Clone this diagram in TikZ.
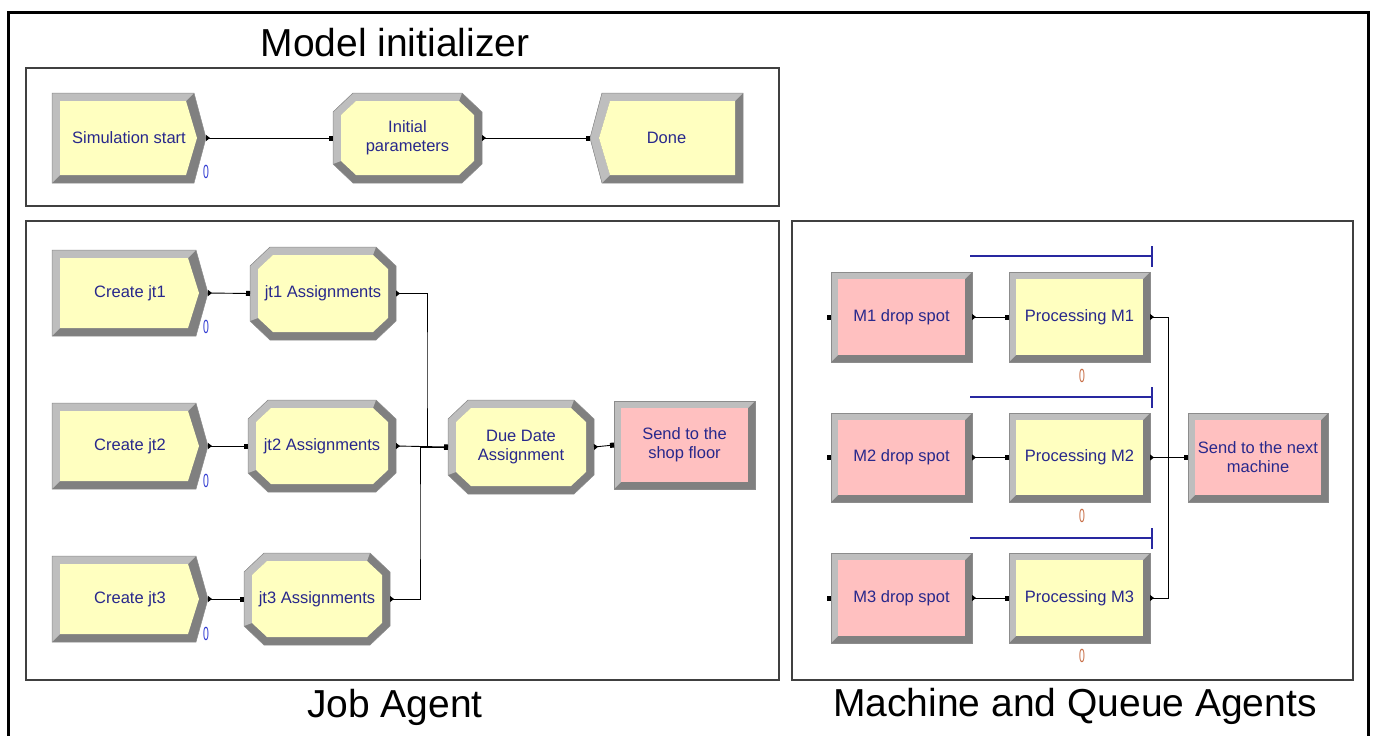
\documentclass[tikz,border=0pt]{standalone}
\usepackage{fontspec}
\setmainfont{Liberation Sans}
\usetikzlibrary{arrows.meta,calc}

\definecolor{yel}{RGB}{255,255,192}
\definecolor{pnk}{RGB}{255,192,192}
\definecolor{bvl}{RGB}{190,190,190}
\definecolor{bvd}{RGB}{128,128,128}
\definecolor{txt}{RGB}{40,40,140}
\definecolor{cntb}{RGB}{50,60,210}
\definecolor{cntr}{RGB}{200,110,70}
\definecolor{qline}{RGB}{40,40,160}

\tikzset{
  modedge/.style={draw=black!45, line width=0.5pt},
  modtext/.style={font=\fontsize{16.5}{19}\selectfont, text=txt, align=center, inner sep=0pt, outer sep=0pt},
  conn/.style={draw=black, line width=0.9pt, arrows={Triangle[reversed,length=4pt,width=6pt]-Square[length=4pt,width=5pt]}},
  frame/.style={draw=black!75, line width=1.2pt},
  outerframe/.style={draw=black, line width=3pt},
  paneltitle/.style={font=\fontsize{39}{44}\selectfont, text=black, inner sep=0pt},
  countb/.style={font=\fontsize{19}{19}\selectfont, text=cntb, xscale=0.55, inner sep=0pt},
  countr/.style={font=\fontsize{19}{19}\selectfont, text=cntr, xscale=0.55, inner sep=0pt},
  queue/.style={draw=qline, line width=1.1pt},
}

% rectangle module: name x1 y1 x2 y2 fill text
\newcommand\RectMod[7]{%
  \fill[bvd] (#2,#3) rectangle (#4,#5);
  \fill[bvl] (#2,#3) -- (#4,#3) -- (#4-7,#3+7) -- (#2+7,#3+7) -- (#2+7,#5-7) -- (#2,#5) -- cycle;
  \fill[#6] (#2+7,#3+7) rectangle (#4-7,#5-7);
  \draw[modedge] (#2,#3) rectangle (#4,#5);
  \node[modtext, minimum width=#4pt-#2pt, minimum height=#5pt-#3pt] (#1) at ({(#2+#4)/2},{(#3+#5)/2}) {#7};
}
% octagon (assign) module
\newcommand\OctMod[7]{%
  \fill[bvd] (#2+20,#3) -- (#4-20,#3) -- (#4,#3+19) -- (#4,#5-19) -- (#4-20,#5) -- (#2+20,#5) -- (#2,#5-19) -- (#2,#3+19) -- cycle;
  \fill[bvl] (#2,#5-19) -- (#2,#3+19) -- (#2+20,#3) -- (#4-20,#3) -- (#4-23,#3+8) -- (#2+23,#3+8) -- (#2+8,#3+22) -- (#2+8,#5-22) -- cycle;
  \fill[#6] (#2+23,#3+8) -- (#4-23,#3+8) -- (#4-8,#3+22) -- (#4-8,#5-22) -- (#4-23,#5-8) -- (#2+23,#5-8) -- (#2+8,#5-22) -- (#2+8,#3+22) -- cycle;
  \draw[modedge] (#2+20,#3) -- (#4-20,#3) -- (#4,#3+19) -- (#4,#5-19) -- (#4-20,#5) -- (#2+20,#5) -- (#2,#5-19) -- (#2,#3+19) -- cycle;
  \node[modtext, minimum width=#4pt-#2pt, minimum height=#5pt-#3pt] (#1) at ({(#2+#4)/2},{(#3+#5)/2}) {#7};
}
% create module (pointed right)
\newcommand\CreateMod[7]{%
  \fill[bvd] (#2,#3) -- (#4-12,#3) -- (#4,{(#3+#5)/2}) -- (#4-12,#5) -- (#2,#5) -- cycle;
  \fill[bvl] (#2,#5) -- (#2,#3) -- (#4-12,#3) -- (#4-20,#3+8) -- (#2+8,#3+8) -- (#2+8,#5-8) -- cycle;
  \fill[#6] (#2+8,#3+8) -- (#4-20,#3+8) -- (#4-9,{(#3+#5)/2}) -- (#4-20,#5-8) -- (#2+8,#5-8) -- cycle;
  \draw[modedge] (#2,#3) -- (#4-12,#3) -- (#4,{(#3+#5)/2}) -- (#4-12,#5) -- (#2,#5) -- cycle;
  \node[modtext, minimum width=#4pt-#2pt, minimum height=#5pt-#3pt] (#1) at ({(#2+#4)/2},{(#3+#5)/2}) {#7};
}
% dispose module (notched left)
\newcommand\DisposeMod[7]{%
  \fill[bvd] (#2+12,#3) -- (#4,#3) -- (#4,#5) -- (#2+12,#5) -- (#2,{(#3+#5)/2}) -- cycle;
  \fill[bvl] (#2+12,#5) -- (#2,{(#3+#5)/2}) -- (#2+12,#3) -- (#4,#3) -- (#4-8,#3+8) -- (#2+20,#3+8) -- (#2+9,{(#3+#5)/2}) -- (#2+20,#5-8) -- cycle;
  \fill[#6] (#2+20,#3+8) -- (#4-8,#3+8) -- (#4-8,#5-8) -- (#2+20,#5-8) -- (#2+9,{(#3+#5)/2}) -- cycle;
  \draw[modedge] (#2+12,#3) -- (#4,#3) -- (#4,#5) -- (#2+12,#5) -- (#2,{(#3+#5)/2}) -- cycle;
  \node[modtext, minimum width=#4pt-#2pt, minimum height=#5pt-#3pt] (#1) at ({(#2+#4)/2},{(#3+#5)/2}) {#7};
}

\begin{document}
\begin{tikzpicture}[x=1pt,y=-1pt]
\useasboundingbox (0,0) rectangle (1376,736);
\fill[white] (0,0) rectangle (1376,736);

% frames
\draw[outerframe] (8,745) -- (8,12) -- (1368,12) -- (1368,745);
\draw[frame] (26,68) rectangle (779,206);
\draw[frame] (26,221) rectangle (779,680);
\draw[frame] (792,221) rectangle (1353,680);

% titles
\node[paneltitle] (tmodel) at (395,43) {Model initializer};
\node[paneltitle] (tjob) at (395,707) {Job Agent};
\node[paneltitle] (tmach) at (1075,706) {Machine and Queue Agents};

% Model initializer
\CreateMod{simstart}{52}{93}{206}{183}{yel}{Simulation start}
\OctMod{initpar}{333}{93}{482}{183}{yel}{Initial\\parameters}
\DisposeMod{done}{590}{93}{743}{183}{yel}{Done}
\node[countb] (n0) at (206,172) {0};

% Job agent
\CreateMod{c1}{52}{250}{208}{336}{yel}{Create jt1}
\OctMod{a1}{250}{247}{396}{340}{yel}{jt1 Assignments}
\CreateMod{c2}{52}{403}{208}{489}{yel}{Create jt2}
\OctMod{a2}{248}{400}{396}{492}{yel}{jt2 Assignments}
\CreateMod{c3}{52}{556}{208}{642}{yel}{Create jt3}
\OctMod{a3}{244}{553}{390}{645}{yel}{jt3 Assignments}
\OctMod{dd}{448}{400}{594}{494}{yel}{Due Date\\Assignment}
\RectMod{sf}{614}{401}{755}{489}{pnk}{Send to the\\shop floor}
\node[countb] (n1) at (206,327) {0};
\node[countb] (n2) at (206,481) {0};
\node[countb] (n3) at (206,634) {0};

% Machine and queue agents
\RectMod{d1}{831}{272}{972}{362}{pnk}{M1 drop spot}
\RectMod{p1}{1009}{272}{1150}{362}{yel}{Processing M1}
\RectMod{d2}{831}{413}{972}{502}{pnk}{M2 drop spot}
\RectMod{p2}{1009}{413}{1150}{502}{yel}{Processing M2}
\RectMod{d3}{831}{553}{972}{643}{pnk}{M3 drop spot}
\RectMod{p3}{1009}{553}{1150}{643}{yel}{Processing M3}
\RectMod{nm}{1188}{413}{1328}{502}{pnk}{Send to the next\\machine}
\node[countr] (q1) at (1082,376) {0};
\node[countr] (q2) at (1082,516) {0};
\node[countr] (q3) at (1082,656) {0};

% queues
\draw[queue] (970,256) -- (1152,256);
\draw[queue] (1152,246) -- (1152,267);
\draw[queue] (970,397) -- (1152,397);
\draw[queue] (1152,387) -- (1152,408);
\draw[queue] (970,538) -- (1152,538);
\draw[queue] (1152,528) -- (1152,549);

% junction coordinates
\coordinate (jA) at (427,370);
\coordinate (jB) at (420,520);
\coordinate (jC) at (1168,380);
\coordinate (jD) at (1168,530);

% connectors
\draw[conn] (simstart.east) -- (initpar.west);
\draw[conn] (initpar.east) -- (done.west);
\draw[conn] (c1.east) -- (a1.west);
\draw[conn] (c2.east) -- (a2.west);
\draw[conn] (c3.east) -- (a3.west);
\draw[conn] (a1.east) -| (jA) |- (dd.west);
\draw[conn] (a2.east) -- (dd.west);
\draw[conn] (a3.east) -| (jB) |- (dd.west);
\draw[conn] (dd.east) -- (sf.west);
\draw[conn] (d1.east) -- (p1.west);
\draw[conn] (d2.east) -- (p2.west);
\draw[conn] (d3.east) -- (p3.west);
\draw[conn] (p1.east) -| (jC) |- (nm.west);
\draw[conn] (p2.east) -- (nm.west);
\draw[conn] (p3.east) -| (jD) |- (nm.west);

% entry points of the drop spots
\fill[black] (d1.west) ++(-4,-2.5) rectangle ++(4,5);
\fill[black] (d2.west) ++(-4,-2.5) rectangle ++(4,5);
\fill[black] (d3.west) ++(-4,-2.5) rectangle ++(4,5);
\end{tikzpicture}
\end{document}
